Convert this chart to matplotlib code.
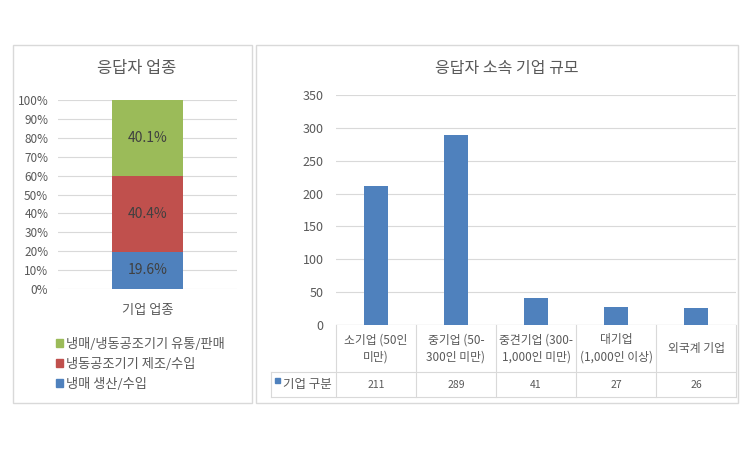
import numpy as np
import matplotlib
matplotlib.use('Agg')
import matplotlib.pyplot as plt
from matplotlib.patches import Rectangle
from matplotlib.lines import Line2D
import matplotlib.transforms as mtransforms

plt.rcParams['font.family'] = ['Noto Sans CJK KR', 'DejaVu Sans']

# left chart: industry share (stacked 100%)
ind_labels = ['냉매 생산/수입', '냉동공조기기 제조/수입', '냉매/냉동공조기기 유통/판매']
ind_values = [19.6, 40.4, 40.1]
ind_colors = ['#4F81BD', '#C0504D', '#9BBB59']
ind_cat = '기업 업종'

# right chart: company size
size_labels = ['소기업 (50인\n미만)', '중기업 (50-\n300인 미만)', '중견기업 (300-\n1,000인 미만)',
               '대기업\n(1,000인 이상)', '외국계 기업']
size_values = [211, 289, 41, 27, 26]
size_series = '기업 구분'

TXT = '#595959'
GRID = '#D9D9D9'
W, H = 750, 450


def fx(px):
    return px / W


def fy(py):
    return 1 - py / H


fig = plt.figure(figsize=(7.5, 4.5), dpi=100)

# panel frames
for x0, x1 in [(13, 252), (256, 738)]:
    fig.patches.append(Rectangle((fx(x0), fy(403)), fx(x1) - fx(x0), fy(45) - fy(403),
                                 transform=fig.transFigure, fill=False,
                                 edgecolor=GRID, linewidth=1))

# ---- left chart
ax1 = fig.add_axes([fx(58), fy(289), fx(237) - fx(58), fy(100) - fy(289)])
bottom = 0
for v, c in zip(ind_values, ind_colors):
    ax1.bar(0, v, width=0.4, bottom=bottom, color=c, zorder=3)
    ax1.text(0, bottom + v / 2, f'{v}%', ha='center', va='center', fontsize=10, color='#404040', zorder=4)
    bottom += v
ax1.set_xlim(-0.5, 0.5)
ax1.set_ylim(0, 100)
ax1.set_yticks(np.arange(0, 101, 10))
ax1.set_yticklabels([f'{t}%' for t in range(0, 101, 10)])
ax1.set_xticks([0])
ax1.set_xticklabels([ind_cat])
ax1.tick_params(axis='y', length=0, colors=TXT, labelsize=8.5, pad=7)
ax1.tick_params(axis='x', length=0, colors=TXT, labelsize=9.5, pad=11)
ax1.grid(axis='y', color=GRID, linewidth=0.8, zorder=0)
for s in ax1.spines.values():
    s.set_visible(False)
fig.text(fx(137), fy(68), '응답자 업종', ha='center', va='center', fontsize=11.8, color=TXT)

handles = [Rectangle((0, 0), 1, 1, color=c) for c in ind_colors][::-1]
fig.legend(handles, ind_labels[::-1], loc='upper left', bbox_to_anchor=(fx(49), fy(331)),
           frameon=False, fontsize=9.5, labelcolor=TXT, handlelength=0.55, handleheight=0.55,
           handletextpad=0.25, labelspacing=0.55, borderpad=0)

# ---- right chart
ax2 = fig.add_axes([fx(336), fy(325), fx(736) - fx(336), fy(95) - fy(325)])
x = np.arange(len(size_values))
ax2.bar(x, size_values, width=0.3, color='#4F81BD', zorder=3)
ax2.set_xlim(-0.5, len(size_values) - 0.5)
ax2.set_ylim(0, 350)
ax2.set_yticks(np.arange(0, 351, 50))
ax2.set_xticks([])
ax2.tick_params(axis='y', length=0, colors=TXT, labelsize=9, pad=9)
ax2.grid(axis='y', color=GRID, linewidth=0.8, zorder=0)
for s in ax2.spines.values():
    s.set_visible(False)
ax2.axhline(0, color='#BFBFBF', linewidth=0.8, zorder=2)
fig.text(fx(507), fy(68), '응답자 소속 기업 규모', ha='center', va='center', fontsize=11.5, color=TXT)

# data table under the axis
tr = mtransforms.blended_transform_factory(ax2.transData, fig.transFigure)
row_mid = fy(372)
row_bot = fy(397)
line_kw = dict(color=GRID, linewidth=0.8, clip_on=False)
for i in range(len(size_values) + 1):
    fig.add_artist(Line2D([i - 0.5, i - 0.5], [fy(325), row_bot], transform=tr, **line_kw))
for i, (lab, v) in enumerate(zip(size_labels, size_values)):
    ax2.text(i, (fy(325) + row_mid) / 2, lab, transform=tr, ha='center', va='center',
             fontsize=8.5, color=TXT, linespacing=1.4)
    ax2.text(i, (row_mid + row_bot) / 2, str(v), transform=tr, ha='center', va='center',
             fontsize=7.5, color=TXT)
for yy in [row_mid, row_bot]:
    fig.add_artist(Line2D([fx(271), fx(736)], [yy, yy], transform=fig.transFigure, **line_kw))
fig.add_artist(Line2D([fx(271), fx(271)], [row_mid, row_bot], transform=fig.transFigure, **line_kw))
fig.patches.append(Rectangle((fx(275), fy(383)), fx(5), fy(378) - fy(383),
                             transform=fig.transFigure, color='#4F81BD'))
fig.text(fx(283), (row_mid + row_bot) / 2, size_series, ha='left', va='center', fontsize=9, color=TXT)

fig.savefig('out.png', dpi=100, facecolor='white')
